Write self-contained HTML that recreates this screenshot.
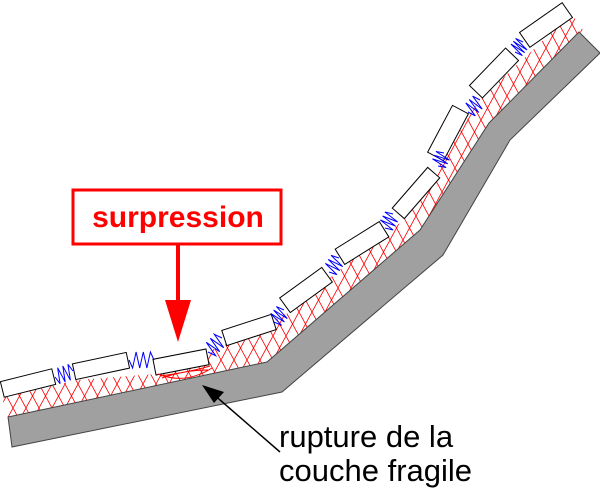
<!DOCTYPE html>
<html><head><meta charset="utf-8"><style>
html,body{margin:0;padding:0;background:#fff;}
svg{display:block;}
</style></head><body>
<svg id="s" width="600" height="488" viewBox="0 0 600 488" xmlns="http://www.w3.org/2000/svg">
<defs>
<pattern id="hx" width="13" height="24" patternUnits="userSpaceOnUse">
<path d="M0,0 L13,24 M13,0 L0,24" stroke="#f00" stroke-width="0.8" fill="none"/>
</pattern>
<clipPath id="bandclip"><polygon points="2,398 77,380 156,374 226,344 290,312 343,267 405,219 443,159 480,99 533,50 571,13 583,30 489,123 420,230 267,362 8,417"/></clipPath>
</defs>
<rect x="0" y="0" width="600" height="488" fill="url(#hx)" clip-path="url(#bandclip)"/>
<polygon points="8,417 267,362 420,230 489,123 579,32 600,53 510,140 443,255 282,392 12,447" fill="#a0a0a0" stroke="#444" stroke-width="1"/>
<g id="tiles"></g>
<g id="springs" stroke="#00f" stroke-width="1" fill="none"></g>
<path d="M158,374 Q185,385 212,368 M160,376 Q190,372 210,366 M162,378 Q185,370 208,370" stroke="#f00" stroke-width="1" fill="none"/>
<rect x="73" y="190" width="208" height="54" fill="#fff" stroke="#f00" stroke-width="3"/>
<text x="178" y="227" text-anchor="middle" font-family="Liberation Sans, sans-serif" font-weight="bold" font-size="30" fill="#f00">surpression</text>
<line x1="178" y1="245" x2="178" y2="305" stroke="#f00" stroke-width="4"/>
<polygon points="165,300 191,300 178,342" fill="#f00"/>
<line x1="280" y1="452" x2="212" y2="393" stroke="#000" stroke-width="1.5"/>
<polygon points="202,385 224,392 214,403" fill="#000"/>
<text x="279" y="447" font-family="Liberation Sans, sans-serif" font-size="31" fill="#000">rupture de la</text>
<text x="279" y="481" font-family="Liberation Sans, sans-serif" font-size="31" fill="#000">couche fragile</text>
</svg>
<script>
var NS="http://www.w3.org/2000/svg";
var tiles=[[28,383,-14,53,16],[101,366,-12,55,16],[181,362,-11,54,16],[249,330,-18,52,16],[306,290,-36,52,18],[362,243,-32,52,18],[416,193,-49,54,16],[448,133,-62,53,18],[494,73,-46,52,18],[546,25,-35,52,18]];
var g=document.getElementById("tiles");
tiles.forEach(function(t){var r=document.createElementNS(NS,"rect");r.setAttribute("x",-t[3]/2);r.setAttribute("y",-t[4]/2);r.setAttribute("width",t[3]);r.setAttribute("height",t[4]);r.setAttribute("fill","#fff");r.setAttribute("stroke","#000");r.setAttribute("stroke-width","1");r.setAttribute("transform","translate("+t[0]+","+t[1]+") rotate("+t[2]+")");g.appendChild(r);});
var sp=[[55,377,73,371],[129,360,154,360],[208,352,222,338],[274,322,284,310],[329,272,339,258],[385,228,393,214],[438,166,444,153],[468,112,480,100],[515,52,523,42]];
var sg=document.getElementById("springs");
sp.forEach(function(s){var dx=s[2]-s[0],dy=s[3]-s[1],L=Math.hypot(dx,dy),nx=-dy/L,ny=dx/L,n=7,pts=[];for(var i=0;i<=n;i++){var f=i/n,a=(i==0||i==n)?0:(i%2?8:-8);pts.push((s[0]+dx*f+nx*a).toFixed(1)+","+(s[1]+dy*f+ny*a).toFixed(1));}var p=document.createElementNS(NS,"polyline");p.setAttribute("points",pts.join(" "));sg.appendChild(p);});
</script>
</body></html>
